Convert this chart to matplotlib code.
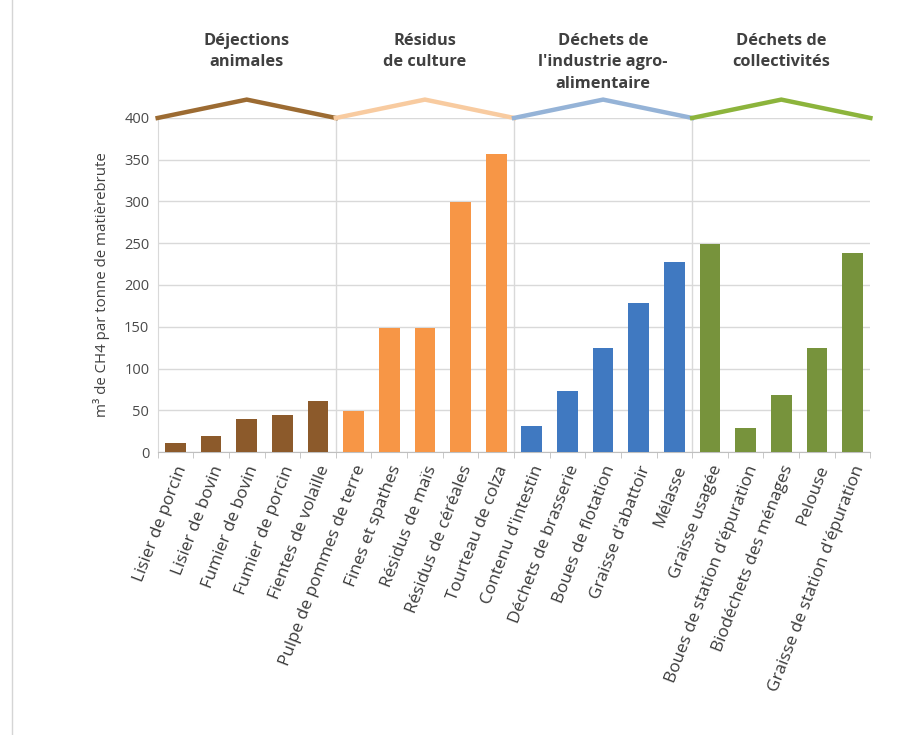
import matplotlib; matplotlib.use('Agg')
import matplotlib.pyplot as plt
import matplotlib.transforms as mtransforms
from matplotlib.lines import Line2D
import numpy as np

plt.rcParams['font.family'] = ['Open Sans', 'DejaVu Sans']

# data
groups = ["Déjections\nanimales", "Résidus\nde culture",
          "Déchets de\nl'industrie agro-\nalimentaire", "Déchets de\ncollectivités"]
categories = [
    "Lisier de porcin", "Lisier de bovin", "Fumier de bovin", "Fumier de porcin", "Fientes de volaille",
    "Pulpe de pommes de terre", "Fines et spathes", "Résidus de maïs", "Résidus de céréales", "Tourteau de colza",
    "Contenu d'intestin", "Déchets de brasserie", "Boues de flotation", "Graisse d'abattoir", "Mélasse",
    "Graisse usagée", "Boues de station d'épuration", "Biodéchets des ménages", "Pelouse",
    "Graisse de station d'épuration",
]
values = [11, 19, 39, 44, 61,
          49, 149, 149, 299, 357,
          31, 73, 124, 179, 227,
          249, 29, 68, 124, 238]
group_size = [5, 5, 5, 5]
bar_colors = ['#8c5a2b', '#f79646', '#4079c1', '#77933c']
line_colors = ['#9c6b32', '#f8cba0', '#95b3d7', '#8cb43c']
yticks = [0, 50, 100, 150, 200, 250, 300, 350, 400]

fig = plt.figure(figsize=(9.22, 7.35), dpi=100)
ax = fig.add_axes([0.171, 0.385, 0.773, 0.4545])

x = np.arange(len(categories))
colors = []
for g, n in enumerate(group_size):
    colors += [bar_colors[g]] * n
ax.bar(x, values, width=0.58, color=colors, zorder=3)

ax.set_xlim(-0.5, len(categories) - 0.5)
ax.set_ylim(0, 400)
ax.set_yticks(yticks)
ax.yaxis.grid(True, color='#d9d9d9', linewidth=1, zorder=0)
ax.tick_params(axis='y', length=0, labelsize=10.5, labelcolor='#4a4a4a', pad=6)

ax.set_xticks(x)
ax.set_xticklabels(categories, rotation=69, ha='right', rotation_mode='anchor',
                   fontsize=12.3, color='#3a3a3a')
ax.set_xticks(np.arange(-0.5, len(categories)), minor=True)
ax.tick_params(axis='x', which='major', length=0, pad=8)
ax.tick_params(axis='x', which='minor', length=4, color='#bfbfbf')

for s in ['top', 'right']:
    ax.spines[s].set_visible(False)
ax.spines['left'].set_color('#d9d9d9')
ax.spines['bottom'].set_color('#bfbfbf')

ax.set_ylabel("m³ de CH4 par tonne de matièrebrute", fontsize=10.8, color='#404040', labelpad=10)

# group separators, zigzag headers and titles
trans = mtransforms.blended_transform_factory(ax.transData, fig.transFigure)
start = 0
for g, n in enumerate(group_size):
    left, right = start - 0.5, start + n - 0.5
    mid = (left + right) / 2
    if g > 0:
        ax.plot([left, left], [0, 400], color='#d9d9d9', linewidth=1, zorder=1)
    ax.plot([left, mid, right], [400, 422, 400], color=line_colors[g], linewidth=3.2,
            clip_on=False, zorder=4, solid_joinstyle='miter')
    ax.text(mid, 0.955, groups[g], transform=trans, ha='center', va='top',
            fontsize=11.8, fontweight='bold', color='#404040', linespacing=1.45)
    start += n

fig.add_artist(Line2D([0.013, 0.013], [0, 1], color='#d5d5d5', linewidth=1))

fig.savefig('out.png', dpi=100)
